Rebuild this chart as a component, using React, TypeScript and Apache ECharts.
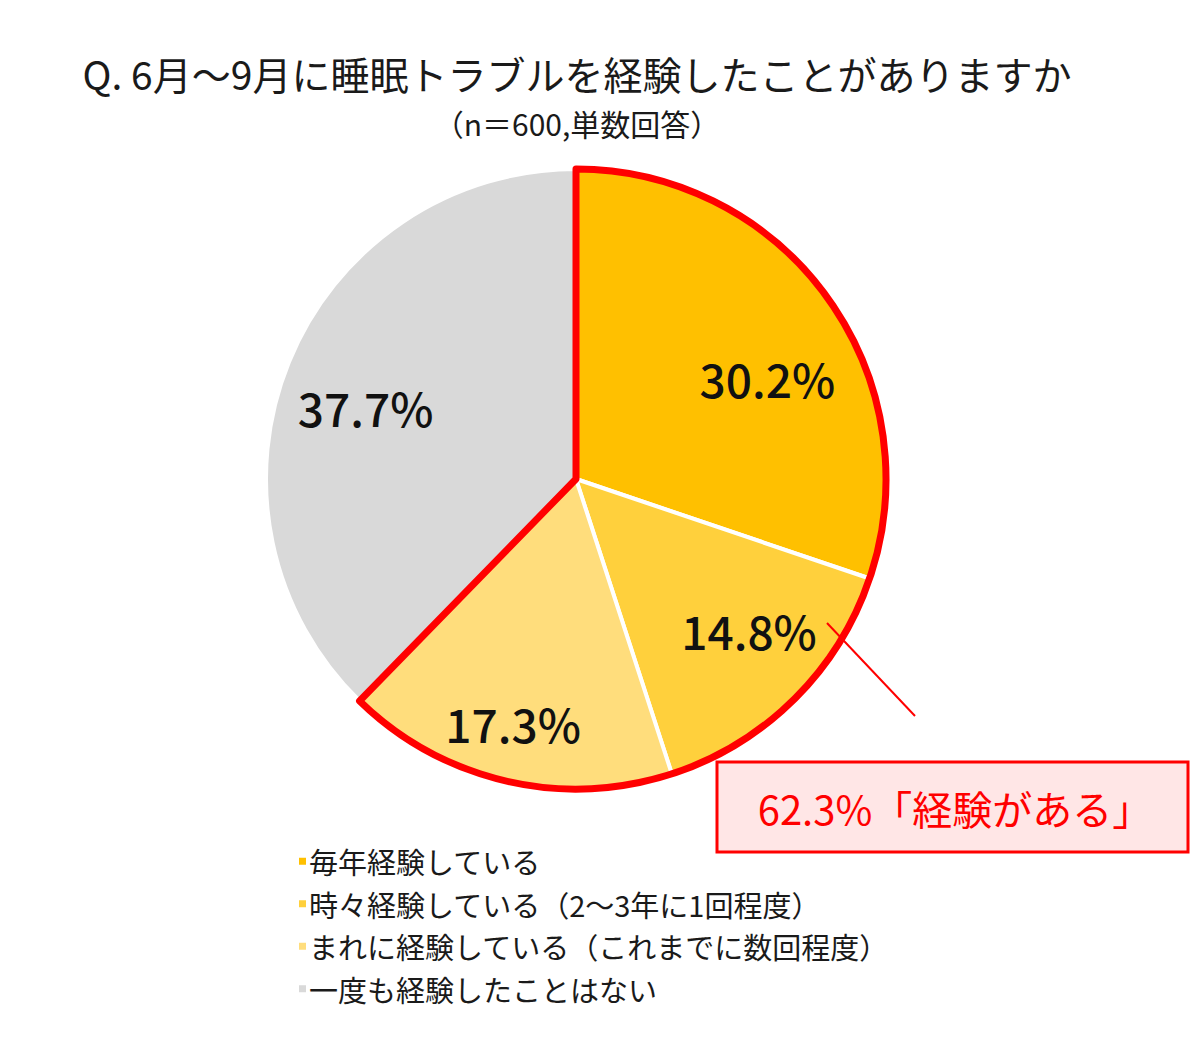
import { useEffect, useRef } from 'react';
import * as echarts from 'echarts';

const categories = [
  '毎年経験している',
  '時々経験している（2～3年に1回程度）',
  'まれに経験している（これまでに数回程度）',
  '一度も経験したことはない',
];
const shares = [30.2, 14.8, 17.3, 37.7];
const sliceColors = ['#FFC000', '#FFD03C', '#FFDD7C', '#D9D9D9'];
// slices that make up the "経験がある" group
const experiencedCount = 3;
// label nudges from the default inside position
const labelNudge: [number, number][] = [
  [63, -9],
  [62, 39],
  [-27, 90],
  [-64, -12],
];

const TITLE = 'Q. 6月～9月に睡眠トラブルを経験したことがありますか';
const SUBTITLE = '（n＝600,単数回答）';

const FONT = "'Noto Sans CJK JP', 'Noto Sans', sans-serif";
const CENTER: [number, number] = [576, 479];
const RADIUS = 310;

const App = () => {
  const chartRef = useRef<HTMLDivElement>(null);

  useEffect(() => {
    document.body.style.margin = '0';
    if (!chartRef.current) return;
    const chart = echarts.init(chartRef.current, null, { renderer: 'svg' });

    const experienced = shares.slice(0, experiencedCount).reduce((a, b) => a + b, 0);
    const rest = shares.slice(experiencedCount).reduce((a, b) => a + b, 0);

    chart.setOption({
      animation: false,
      backgroundColor: '#ffffff',
      textStyle: { fontFamily: FONT },
      legend: {
        orient: 'vertical',
        left: 294,
        top: 841,
        icon: 'rect',
        itemWidth: 7,
        itemHeight: 7,
        itemGap: 12,
        selectedMode: false,
        data: categories,
        itemStyle: { borderWidth: 0 },
        textStyle: { fontSize: 29, lineHeight: 30.5, color: '#1a1a1a', fontFamily: FONT, padding: [0, 0, 0, -2] },
      },
      series: [
        {
          type: 'pie',
          center: CENTER,
          radius: [0, RADIUS],
          startAngle: 90,
          clockwise: true,
          silent: true,
          itemStyle: { borderColor: '#ffffff', borderWidth: 4 },
          label: {
            show: true,
            position: 'inside',
            formatter: (p: any) => `${p.value.toFixed(1)}%`,
            fontSize: 46,
            fontWeight: 500,
            color: '#111111',
            fontFamily: FONT,
          },
          labelLine: { show: false },
          labelLayout: (p: any) => ({ dx: labelNudge[p.dataIndex][0], dy: labelNudge[p.dataIndex][1] }),
          emphasis: { disabled: true },
          data: categories.map((name, i) => ({
            name,
            value: shares[i],
            itemStyle: { color: sliceColors[i] },
          })),
        },
        {
          type: 'pie',
          center: CENTER,
          radius: [0, RADIUS],
          startAngle: 90,
          clockwise: true,
          silent: true,
          z: 5,
          label: { show: false },
          labelLine: { show: false },
          emphasis: { disabled: true },
          data: [
            {
              name: '経験がある',
              value: experienced,
              itemStyle: { color: 'transparent', borderColor: '#FF0000', borderWidth: 7, borderJoin: 'round' },
            },
            {
              name: '経験なし',
              value: rest,
              itemStyle: { color: 'transparent', borderWidth: 0 },
            },
          ],
        },
      ],
      graphic: [
        {
          type: 'text',
          x: 577,
          y: 73,
          style: {
            text: TITLE,
            fill: '#1a1a1a',
            font: `39px ${FONT}`,
            lineHeight: 39,
            align: 'center',
            verticalAlign: 'middle',
          },
        },
        {
          type: 'text',
          x: 577,
          y: 123,
          style: {
            text: SUBTITLE,
            fill: '#1a1a1a',
            font: `30px ${FONT}`,
            lineHeight: 30,
            align: 'center',
            verticalAlign: 'middle',
          },
        },
        {
          type: 'line',
          shape: { x1: 827, y1: 623, x2: 915, y2: 716 },
          style: { stroke: '#FF0000', lineWidth: 2 },
          z: 10,
        },
        {
          type: 'rect',
          shape: { x: 717, y: 762, width: 471, height: 90 },
          style: { fill: '#FFE6E6', stroke: '#FF0000', lineWidth: 3 },
          z: 10,
        },
        {
          type: 'text',
          x: 955,
          y: 808,
          style: {
            text: `${experienced.toFixed(1)}%「経験がある」`,
            fill: '#FF0000',
            font: `40px ${FONT}`,
            align: 'center',
            verticalAlign: 'middle',
          },
          z: 11,
        },
      ],
    });

    return () => chart.dispose();
  }, []);

  return <div ref={chartRef} style={{ width: 1200, height: 1047 }} />;
};

export default App;
